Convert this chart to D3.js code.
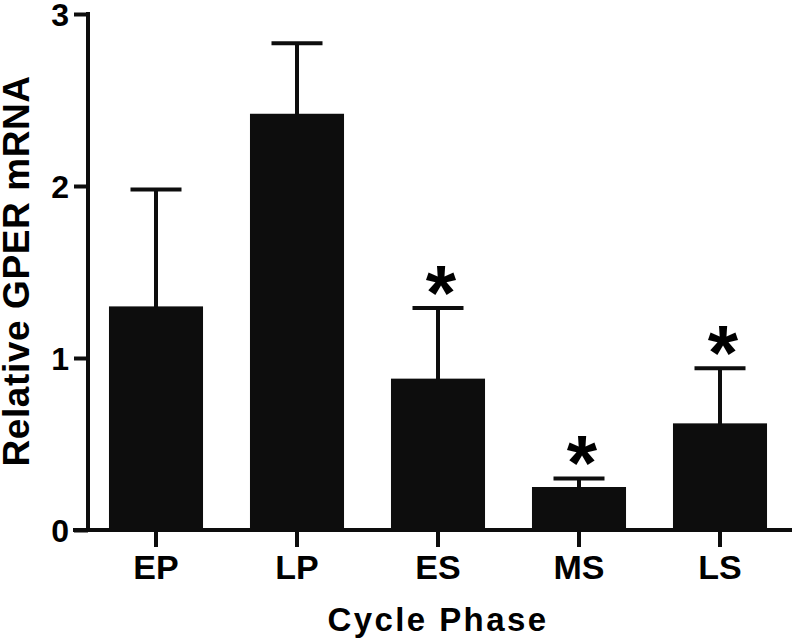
<!DOCTYPE html>
<html>
<head>
<meta charset="utf-8">
<script src="https://cdn.jsdelivr.net/npm/d3@7"></script>
<style>
  html, body { margin: 0; padding: 0; background: #fff; }
  svg { display: block; }
  text { font-family: "Liberation Sans", Arial, Helvetica, sans-serif; font-weight: bold; fill: #000; }
</style>
</head>
<body>
<svg id="chart" width="792" height="644"></svg>
<script>
const categories = ["EP", "LP", "ES", "MS", "LS"];
const means = [1.30, 2.42, 0.88, 0.25, 0.62];
const errors = [0.68, 0.41, 0.41, 0.05, 0.32];
const significant = [false, false, true, true, true];
const yTicks = [0, 1, 2, 3];
const yTitle = "Relative GPER mRNA";
const xTitle = "Cycle Phase";

const svg = d3.select("#chart");
const ink = "#0d0d0d";

const y = d3.scaleLinear().domain([0, 3]).range([530, 14]);
const x = d3.scaleBand().domain(categories).range([85.5, 790.5])
  .paddingInner(0.333).paddingOuter(0.1665);

// bars
svg.append("g").selectAll("rect").data(categories).join("rect")
  .attr("x", d => x(d))
  .attr("y", (d, i) => y(means[i]))
  .attr("width", x.bandwidth())
  .attr("height", (d, i) => y(0) - y(means[i]))
  .attr("fill", ink);

// error bars
const eb = svg.append("g").attr("stroke", ink).attr("stroke-width", 4);
categories.forEach((c, i) => {
  const cx = x(c) + x.bandwidth() / 2;
  const top = y(means[i] + errors[i]);
  eb.append("line").attr("x1", cx).attr("x2", cx).attr("y1", y(means[i]) + 1).attr("y2", top);
  eb.append("line").attr("x1", cx - 25.5).attr("x2", cx + 25.5).attr("y1", top).attr("y2", top);
});

// asterisks
svg.append("g").selectAll("text").data(categories.filter((c, i) => significant[i])).join("text")
  .attr("x", d => x(d) + x.bandwidth() / 2 + 3)
  .attr("y", d => { const i = categories.indexOf(d); return y(means[i] + errors[i]) + 12; })
  .attr("text-anchor", "middle")
  .style("font-size", "78px")
  .text("*");

// y axis
const yAxis = svg.append("g").attr("transform", "translate(88,0)")
  .call(d3.axisLeft(y).tickValues(yTicks).tickFormat(d3.format("d")).tickSize(14).tickPadding(5));
yAxis.select(".domain").attr("stroke", ink).attr("stroke-width", 4).attr("d", "M0,12V532");
yAxis.selectAll(".tick line").attr("stroke", ink).attr("stroke-width", 4);
yAxis.selectAll(".tick text").style("font-size", "32px").attr("dy", "0.36em")
  .style("font-family", "'Liberation Sans', Arial, sans-serif").style("font-weight", "bold").attr("fill", "#000");

// x axis
const xAxis = svg.append("g").attr("transform", "translate(0,530)")
  .call(d3.axisBottom(x).tickSize(17).tickPadding(8));
xAxis.select(".domain").attr("stroke", ink).attr("stroke-width", 4).attr("d", "M73,0H792");
xAxis.selectAll(".tick line").attr("stroke", ink).attr("stroke-width", 4);
xAxis.selectAll(".tick text").style("font-size", "34px")
  .style("font-family", "'Liberation Sans', Arial, sans-serif").style("font-weight", "bold").attr("fill", "#000");

// titles
svg.append("text")
  .attr("transform", "translate(29,271) rotate(-90)")
  .attr("text-anchor", "middle")
  .style("font-size", "37px")
  .style("letter-spacing", "0.6px")
  .text(yTitle);

svg.append("text")
  .attr("x", 438).attr("y", 631)
  .attr("text-anchor", "middle")
  .style("font-size", "33px")
  .style("letter-spacing", "2.4px")
  .text(xTitle);
</script>
</body>
</html>
